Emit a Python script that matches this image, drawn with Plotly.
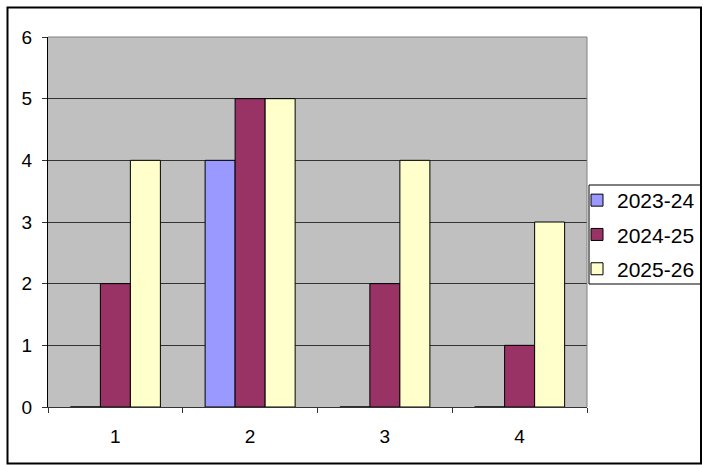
import plotly.graph_objects as go

categories = ["1", "2", "3", "4"]
series_names = ["2023-24", "2024-25", "2025-26"]
values_2023_24 = [0, 4, 0, 0]
values_2024_25 = [2, 5, 2, 1]
values_2025_26 = [4, 5, 4, 3]
colors = ["#9999FF", "#993366", "#FFFFCC"]
y_ticks = [0, 1, 2, 3, 4, 5, 6]

W, H = 703, 465
L, R, T, B = 48, 116, 37, 58
pw, ph = W - L - R, H - T - B

def px_x(x):
    return (x - L) / pw

def px_y(y):
    return (H - B - y) / ph

font = dict(family="Liberation Sans, Arial, sans-serif", size=19, color="black")
legend_font = dict(family="Liberation Sans, Arial, sans-serif", size=21, color="black")

fig = go.Figure()
for name, vals, col in zip(series_names, [values_2023_24, values_2024_25, values_2025_26], colors):
    fig.add_trace(go.Bar(
        x=categories, y=vals, name=name, legendgroup=name,
        marker=dict(color=col, line=dict(color="black", width=1)),
    ))

fig.update_layout(
    width=W, height=H, autosize=False,
    margin=dict(l=L, r=R, t=T, b=B, pad=0, autoexpand=False),
    paper_bgcolor="white", plot_bgcolor="#C0C0C0",
    font=font,
    barmode="group", bargap=0.332, bargroupgap=0,
    showlegend=True,
    legend=dict(
        x=px_x(577), y=px_y(180), xanchor="left", yanchor="top",
        bgcolor="rgba(0,0,0,0)", borderwidth=0,
        traceorder="grouped", tracegroupgap=4,
        font=legend_font, itemwidth=30,
    ),
    xaxis=dict(
        type="category", showgrid=False, showline=True, linecolor="#333333", linewidth=1,
        ticks="outside", ticklen=5, tickcolor="#333333", tickson="boundaries",
        ticklabelstandoff=12, tickfont=font, zeroline=False,
    ),
    yaxis=dict(
        range=[0, 6], tickvals=y_ticks, showgrid=True, gridcolor="#333333", gridwidth=1,
        showline=True, linecolor="black", linewidth=1,
        ticks="outside", ticklen=5, tickcolor="#333333",
        ticklabelstandoff=6, tickfont=font, zeroline=False,
    ),
    shapes=[
        dict(type="line", xref="paper", yref="paper", x0=0, x1=1, y0=1, y1=1,
             line=dict(color="#808080", width=1)),
        dict(type="line", xref="paper", yref="paper", x0=1, x1=1, y0=0, y1=1,
             line=dict(color="#808080", width=1)),
        dict(type="rect", xref="paper", yref="paper",
             x0=px_x(589), x1=px_x(701), y0=px_y(284), y1=px_y(185),
             line=dict(color="black", width=1), fillcolor="rgba(0,0,0,0)"),
        dict(type="rect", xref="paper", yref="paper",
             x0=px_x(7.5), x1=px_x(701), y0=px_y(463.5), y1=px_y(7.5),
             line=dict(color="black", width=2), fillcolor="rgba(0,0,0,0)"),
    ],
)

fig.write_html(
    "out.html",
    config={"responsive": False, "displayModeBar": False},
    post_script="document.body.style.margin='0';document.body.style.overflow='hidden';",
)
